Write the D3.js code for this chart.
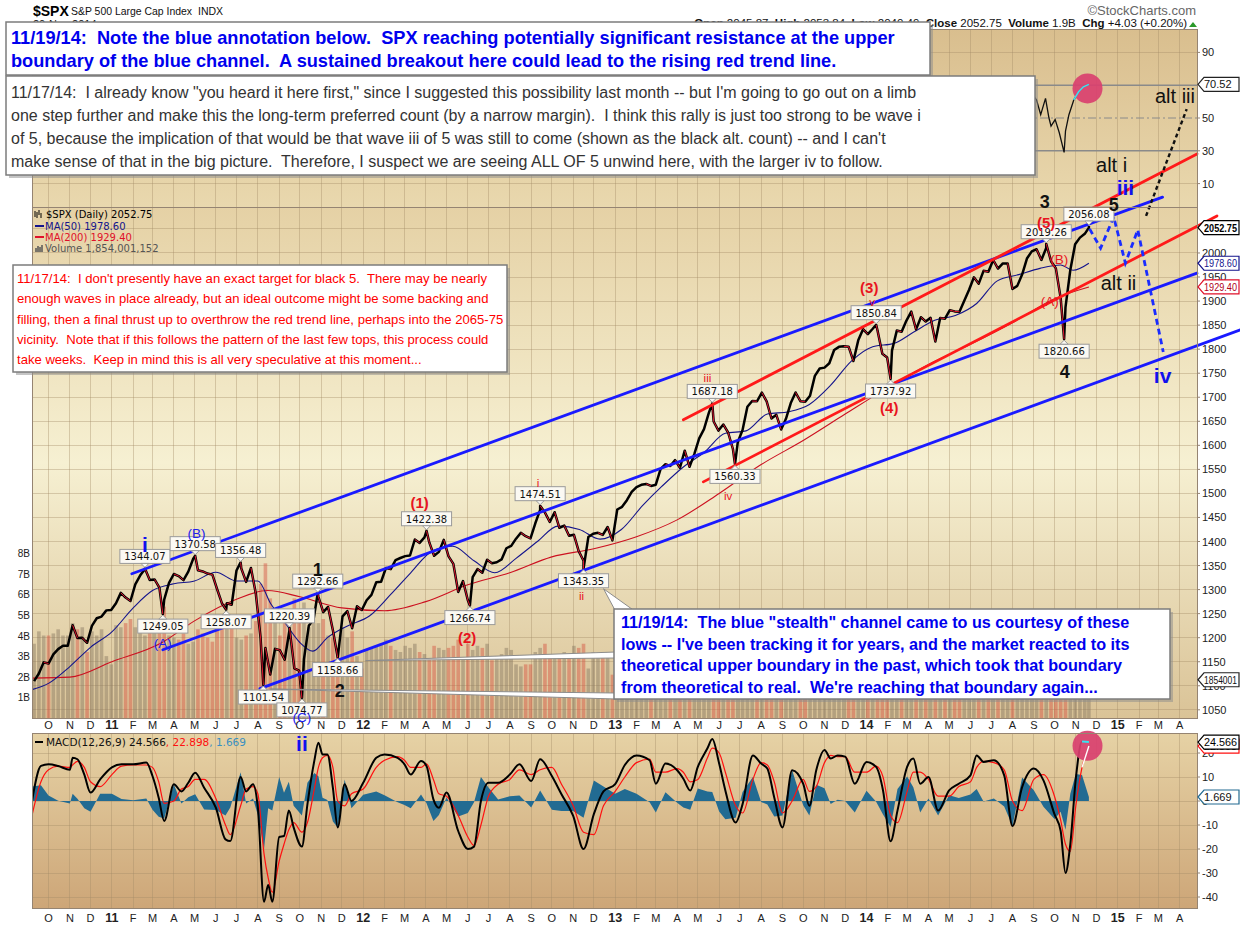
<!DOCTYPE html>
<html>
<head>
<meta charset="utf-8">
<title>$SPX S&amp;P 500 Large Cap Index</title>
<script src="https://cdn.jsdelivr.net/npm/d3@7"></script>
<style>
    body { margin: 0; background: #fff; }
    svg { display: block; }
</style>
</head>
<body>
<svg id="chart" width="1240" height="928"></svg>
<script>
//Weekly closes, one per Friday starting FIRST_WEEK (last one is the 11/20 close)
const FIRST_WEEK = "2010-09-10";
const LAST_DAY = "2014-11-20";
const CLOSES = [
    //2010
    1109.6, 1125.6, 1148.7, 1146.2, 1165.2, 1176.2, 1183.1, 1183.3, 1225.9, 1199.2, 1199.7, 1189.4,
    1224.7, 1240.4, 1243.9, 1256.8, 1257.6,
    //2011
    1271.5, 1293.2, 1283.4, 1276.3, 1310.9, 1329.2, 1343.0, 1320.0, 1321.2, 1304.3, 1279.2, 1313.8,
    1332.4, 1328.2, 1319.7, 1337.4, 1363.6, 1340.2, 1337.8, 1333.3, 1331.1, 1300.2, 1271.0, 1271.5, 1268.5,
    1339.7, 1343.8, 1316.1, 1345.0, 1292.3, 1199.4, 1178.8, 1123.5, 1176.8, 1174.0, 1154.2, 1216.0, 1136.4, 1131.4,
    1155.5, 1224.6, 1238.3, 1285.1, 1253.2, 1263.9, 1215.7, 1158.7, 1244.3, 1255.2, 1219.7, 1265.3, 1257.6,
    //2012
    1277.8, 1289.1, 1315.4, 1316.3, 1344.9, 1342.6, 1361.2, 1365.7, 1369.6, 1370.9, 1404.2, 1397.1, 1408.5,
    1398.1, 1370.3, 1378.5, 1403.4, 1369.1, 1353.4, 1295.2, 1317.8, 1278.0, 1325.7, 1342.8, 1335.0, 1362.2,
    1354.7, 1356.8, 1362.7, 1386.0, 1391.0, 1405.9, 1418.2, 1411.1, 1406.6, 1437.9, 1465.8, 1460.2, 1440.7,
    1460.9, 1428.6, 1433.2, 1411.9, 1414.2, 1379.9, 1359.9, 1409.2, 1416.2, 1418.1, 1413.6, 1430.2, 1402.4,
    //2013
    1466.5, 1472.1, 1486.0, 1503.0, 1513.2, 1517.9, 1519.8, 1515.6, 1518.2, 1551.2, 1560.7, 1556.9, 1569.2,
    1553.3, 1588.9, 1555.3, 1582.2, 1614.4, 1633.7, 1667.5, 1649.6, 1630.7, 1643.4, 1626.7, 1592.4, 1606.3,
    1631.9, 1680.2, 1692.1, 1691.7, 1709.7, 1691.4, 1655.8, 1663.5, 1633.0, 1655.2, 1688.0, 1709.9, 1691.8,
    1690.5, 1703.2, 1744.5, 1759.8, 1761.6, 1770.6, 1798.2, 1804.8, 1805.8, 1805.1, 1775.3, 1818.3, 1841.4,
    //2014
    1831.4, 1842.4, 1838.7, 1790.3, 1782.6, 1797.0, 1838.6, 1836.2, 1859.5, 1878.0, 1841.1, 1866.5, 1857.6,
    1865.1, 1815.7, 1864.9, 1863.4, 1881.1, 1878.5, 1877.9, 1900.5, 1923.6, 1949.4, 1936.2, 1962.9, 1961.0,
    1985.4, 1967.6, 1978.2, 1978.3, 1925.2, 1931.6, 1955.1, 1988.4, 2003.4, 2007.7, 1985.5, 2010.4, 1982.9,
    1967.9, 1906.1, 1886.8, 1964.6, 2018.1, 2031.9, 2039.8, 2052.75
];

//Volume per week, billions of shares
const VOLUMES = [
    3.6, 4.2, 4.0, 4.0, 4.1, 4.3, 4.0, 4.0, 4.6, 4.3, 4.4, 3.2, 4.2, 4.0, 4.3, 3.0, 2.6,
    4.5, 4.4, 4.6, 4.8, 4.4, 4.2, 4.0, 4.6, 4.4, 4.8, 5.4, 4.0, 3.9, 3.8, 4.1, 3.6, 3.7, 4.3, 4.1, 3.9, 3.7,
    4.3, 4.5, 4.6, 4.8, 3.9, 3.8, 4.0, 4.1, 4.7, 6.5, 7.5, 5.8, 4.9, 4.0, 4.6, 4.7, 5.8, 4.9, 5.6, 4.4, 4.6, 4.6,
    4.8, 4.0, 3.9, 3.3, 4.4, 3.9, 4.2, 3.0, 2.4,
    3.3, 3.4, 3.5, 3.6, 3.8, 3.5, 3.3, 3.2, 3.5, 3.4, 3.6, 3.2, 3.1, 2.9, 3.5, 3.4, 3.3, 3.4, 3.5, 3.8, 2.9,
    3.6, 3.3, 3.5, 3.4, 3.6, 2.8, 3.0, 3.1, 3.4, 3.3, 2.6, 2.5, 2.6, 2.6, 3.2, 3.4, 3.6, 2.9, 2.9, 3.0, 3.2, 3.1,
    3.5, 3.4, 3.6, 2.4, 3.2, 3.1, 3.0, 3.2, 2.1,
    3.6, 3.5, 3.4, 3.5, 3.6, 3.3, 3.2, 3.5, 3.3, 3.2, 3.4, 3.2, 3.0, 3.3, 3.2, 3.8, 3.2, 3.4, 3.3, 3.3, 3.6, 3.5,
    3.6, 3.3, 4.2, 3.9, 2.7, 3.2, 3.1, 3.0, 3.2, 2.8, 2.9, 2.6, 2.7, 2.9, 2.9, 3.4, 3.1, 3.2, 3.4, 3.3, 3.2,
    3.4, 3.3, 3.1, 3.2, 2.3, 3.2, 3.3, 3.9, 2.3,
    2.8, 3.2, 3.3, 3.6, 3.8, 3.9, 3.2, 3.0, 3.2, 3.2, 3.3, 3.5, 3.4, 3.4, 3.6, 3.2, 3.0, 3.2, 3.0, 3.1, 2.8, 2.7,
    2.8, 2.9, 3.2, 2.9, 2.4, 2.9, 3.0, 2.9, 3.6, 3.3, 2.9, 2.5, 2.3, 2.7, 2.9, 3.5, 3.2, 3.6, 4.1, 4.9, 3.2, 3.4,
    3.0, 2.8, 2.6
];
const LAST_VOLUME = 1.854001152;

//Labelled highs and lows
const PIVOT_DATES = ["2011-02-18", "2011-03-16", "2011-05-02", "2011-06-16", "2011-07-07", "2011-08-09",
    "2011-09-16", "2011-10-04", "2011-10-27", "2011-11-25", "2012-04-02", "2012-06-04", "2012-09-14",
    "2012-11-16", "2013-05-22", "2013-06-24", "2014-01-15", "2014-02-05", "2014-09-19", "2014-10-15", "2014-11-20"];
const PIVOT_PRICES = [1344.07, 1249.05, 1370.58, 1258.07, 1356.48, 1101.54, 1220.39, 1074.77, 1292.66, 1158.66,
    1422.38, 1266.74, 1474.51, 1343.35, 1687.18, 1560.33, 1850.84, 1737.92, 2019.26, 1820.66, 2056.08];
const PIVOT_SIDES = ["H", "L", "H", "L", "H", "L", "H", "L", "H", "L", "H", "L", "H", "L", "H", "L", "H", "L", "H", "L", "H"];

//Moving averages
const MA50_DATES = ["2010-09-07", "2010-10-01", "2010-11-01", "2010-12-01", "2011-01-01", "2011-02-01", "2011-03-01",
    "2011-04-01", "2011-05-01", "2011-06-01", "2011-07-01", "2011-08-01", "2011-08-20", "2011-09-10", "2011-10-01",
    "2011-10-20", "2011-11-10", "2011-12-10", "2012-01-10", "2012-02-10", "2012-03-10", "2012-04-10", "2012-05-10",
    "2012-06-10", "2012-07-10", "2012-08-10", "2012-09-10", "2012-10-10", "2012-11-10", "2012-12-10", "2013-01-10",
    "2013-02-10", "2013-03-10", "2013-04-10", "2013-05-10", "2013-06-10", "2013-07-10", "2013-08-10", "2013-09-10",
    "2013-10-10", "2013-11-10", "2013-12-10", "2014-01-10", "2014-02-10", "2014-03-10", "2014-04-10", "2014-05-10",
    "2014-06-10", "2014-07-10", "2014-08-10", "2014-09-10", "2014-10-10", "2014-10-28", "2014-11-20"];
const MA50_VALUES = [1092, 1105, 1140, 1180, 1212, 1262, 1298, 1312, 1318, 1336, 1318, 1318, 1270, 1230, 1190,
    1172, 1200, 1225, 1245, 1290, 1335, 1380, 1390, 1360, 1335, 1365, 1400, 1432, 1425, 1405, 1425, 1475, 1515,
    1555, 1585, 1625, 1630, 1665, 1670, 1685, 1725, 1775, 1805, 1812, 1835, 1860, 1870, 1895, 1942, 1955, 1968,
    1975, 1964, 1978.6];
const MA200_DATES = ["2010-09-07", "2010-11-01", "2011-01-01", "2011-03-15", "2011-05-01", "2011-07-01", "2011-08-15",
    "2011-10-01", "2011-12-01", "2012-02-01", "2012-04-01", "2012-06-01", "2012-08-01", "2012-10-01", "2012-12-01",
    "2013-02-01", "2013-04-01", "2013-06-01", "2013-08-01", "2013-10-01", "2013-12-01", "2014-02-01", "2014-04-01",
    "2014-06-01", "2014-08-01", "2014-10-01", "2014-11-20"];
const MA200_VALUES = [1116, 1118, 1150, 1190, 1235, 1280, 1298, 1285, 1262, 1256, 1275, 1310, 1335, 1368, 1385,
    1410, 1445, 1500, 1560, 1610, 1665, 1720, 1768, 1810, 1855, 1905, 1929.4];

//RSI(14), only the stretch not hidden by the notes
const RSI_DATES = ["2014-08-29", "2014-09-05", "2014-09-11", "2014-09-18", "2014-09-23", "2014-09-26", "2014-10-02",
    "2014-10-08", "2014-10-15", "2014-10-17", "2014-10-22", "2014-10-29", "2014-11-05", "2014-11-12", "2014-11-20"];
const RSI_VALUES = [65, 61, 52, 62, 50, 45, 49, 41, 29, 42, 52, 61, 66, 69, 70.52];

//MACD(12,26,9) and its signal line
const MACD_DATES = ["2010-09-07", "2010-09-20", "2010-10-01", "2010-10-15", "2010-11-01", "2010-11-05", "2010-11-12",
    "2010-11-22", "2010-12-01", "2010-12-15", "2011-01-01", "2011-01-15", "2011-02-01", "2011-02-20", "2011-03-01",
    "2011-03-10", "2011-03-18", "2011-04-01", "2011-04-12", "2011-04-22", "2011-05-02", "2011-05-15", "2011-06-01",
    "2011-06-15", "2011-06-22", "2011-07-07", "2011-07-15", "2011-07-25", "2011-08-01", "2011-08-10", "2011-08-16",
    "2011-08-22", "2011-09-01", "2011-09-08", "2011-09-15", "2011-09-22", "2011-10-04", "2011-10-12", "2011-10-22",
    "2011-10-28", "2011-11-03", "2011-11-10", "2011-11-18", "2011-11-25", "2011-12-05", "2011-12-15", "2012-01-01",
    "2012-01-20", "2012-02-01", "2012-02-20", "2012-03-01", "2012-03-10", "2012-03-25", "2012-04-02", "2012-04-12",
    "2012-04-20", "2012-05-01", "2012-05-18", "2012-06-01", "2012-06-10", "2012-06-20", "2012-07-01", "2012-07-15",
    "2012-08-01", "2012-08-15", "2012-09-01", "2012-09-14", "2012-10-01", "2012-10-15", "2012-11-01", "2012-11-16",
    "2012-12-01", "2012-12-15", "2013-01-01", "2013-01-15", "2013-02-01", "2013-02-20", "2013-03-01", "2013-03-15",
    "2013-04-01", "2013-04-10", "2013-04-20", "2013-05-01", "2013-05-15", "2013-05-22", "2013-06-01", "2013-06-10",
    "2013-06-25", "2013-07-05", "2013-07-20", "2013-08-01", "2013-08-10", "2013-08-20", "2013-09-01", "2013-09-15",
    "2013-10-01", "2013-10-10", "2013-10-20", "2013-11-01", "2013-11-10", "2013-11-20", "2013-12-01", "2013-12-15",
    "2014-01-01", "2014-01-15", "2014-01-25", "2014-02-05", "2014-02-15", "2014-03-01", "2014-03-10", "2014-03-20",
    "2014-04-01", "2014-04-15", "2014-05-01", "2014-05-15", "2014-06-01", "2014-06-10", "2014-06-20", "2014-07-05",
    "2014-07-20", "2014-08-01", "2014-08-15", "2014-09-01", "2014-09-15", "2014-10-01", "2014-10-10", "2014-10-17",
    "2014-10-24", "2014-11-01", "2014-11-10", "2014-11-20"];
const MACD_VALUES = [0, 14.6, 15.3, 14.6, 13, 18, 17.4, 11, 3.5, 9, 14, 15.3, 15.3, 16, 10.4, 1.4, -8.3, 7, 4, 7.6,
    11.8, 5.5, -2.8, -16, -16.7, 10, 4, 7, -2.8, -42, -35, -42, -15, -14.6, -4, -11, -19, -1.4, 16.7, 24.3, 19.4,
    19.4, 5.5, -11, 7, 0, 7.6, 18, 19.4, 18, 15.3, 11, 16.7, 14.6, 0.7, -2.8, 3.5, -12.5, -20, -19, 0, 7.6, 7.6,
    11, 15.3, 8.3, 17.4, 10.4, 2.8, -6.2, -20, -5.5, 4, 7, 15, 19, 17, 7.2, 15.6, 12.8, 9.3, 4.4, 14.2, 22, 25.8,
    15.6, 4.4, -9, -1.3, 19, 15.6, 13.5, 1.5, -11, 12.8, 7.2, -2, 12.8, 21.3, 17.7, 19, 18.5, 7.2, 16.3, 14.2, 4.4,
    -16.8, -4, 14.2, 17.7, 7.2, 10, -4, 4.4, 7.2, 10.7, 19, 16.3, 17, 10.7, -10.4, 5.8, 13.5, 8.6, -5.5, -12.5,
    -30, -18, 9.3, 24.8, 24.5664];
const SIGNAL_VALUES = [-6, 8, 13, 14.5, 14, 15, 16.5, 14, 8, 6, 11, 14.5, 15, 15, 14, 8, -1, 0, 5, 6, 9, 9, 1,
    -10, -14, -2, 5, 6, 3, -22, -32, -38, -25, -18, -12, -9, -13, -9, 5, 14, 18, 19, 14, 0, -2, 3, 5, 14, 17,
    18.5, 17, 14, 14, 15.5, 9, 3, 2, -6, -15, -18.5, -10, 2, 7, 9, 13, 11, 13, 14, 7, -2, -13, -14, -2, 4, 10,
    16, 17.5, 12, 12, 13.5, 12, 8, 9, 18, 22, 20, 12, -2, -5, 9, 16, 15, 8, -5, 0, 9, 4, 6, 16, 19, 18.5, 18.5,
    12, 12, 14.5, 10, -6, -9, 4, 12, 12, 9, 2, 2, 6, 8, 14, 16.5, 16, 13, 0, -4, 9, 11, 2, -8, -18, -21, -2, 14,
    22.8976];

//Channels drawn on the chart, [start date, price, end date, price]
const BLUE_CHANNEL = [
    ["2011-01-30", 1333, "2015-03-07", 2116],
    ["2011-03-16", 1175, "2015-04-26", 1958],
    ["2011-08-04", 1094, "2015-06-28", 1840]
];
const RED_CHANNEL = [
    ["2013-04-10", 1653, "2015-04-26", 2206],
    ["2013-05-09", 1524, "2015-05-25", 2077]
];
//Projected paths
const BLUE_PATH = [["2014-11-21", 2050], ["2014-12-07", 2010], ["2014-12-26", 2075], ["2015-01-12", 1979],
    ["2015-01-30", 2048], ["2015-03-08", 1794]];
const ALT_PATH = [["2015-02-11", 2077], ["2015-04-11", 2299]];

//Wave labels [text, date, price]
const BLUE_WAVES = [["i", "2011-02-18", 1393], ["ii", "2011-10-04", 981], ["iii", "2015-01-12", 2137], ["iv", "2015-03-07", 1746]];
const BLUE_LETTERS = [["(A)", "2011-03-16", 1189], ["(B)", "2011-05-04", 1418], ["(C)", "2011-10-04", 1035]];
const BLACK_WAVES = [["1", "2011-10-27", 1341], ["2", "2011-11-28", 1091], ["3", "2014-09-17", 2106],
    ["4", "2014-10-16", 1753], ["5", "2014-12-26", 2100]];
const ALT_WAVES = [["alt i", "2014-12-23", 2183], ["alt ii", "2015-01-02", 1938], ["alt iii", "2015-03-25", 2326]];
const RED_WAVES = [["(1)", "2012-03-23", 1480], ["(2)", "2012-05-31", 1200], ["(3)", "2014-01-05", 1927],
    ["(4)", "2014-02-03", 1678], ["(5)", "2014-09-19", 2064]];
const RED_MINOR = [["i", "2012-09-11", 1522], ["ii", "2012-11-13", 1287], ["iii", "2013-05-15", 1740],
    ["iv", "2013-06-14", 1495], ["v", "2014-01-09", 1898]];
const RED_LETTERS = [["(A)", "2014-09-24", 1900], ["(B)", "2014-10-08", 1987]];

//Axis labels
const MONTH_LETTERS = ["J", "F", "M", "A", "M", "J", "J", "A", "S", "O", "N", "D"];
const PRICE_TICKS = [1050, 1100, 1150, 1200, 1250, 1300, 1350, 1400, 1450, 1500, 1550, 1600, 1650, 1700, 1750,
    1800, 1850, 1900, 1950, 2000, 2050];
const RSI_TICKS = [10, 30, 50, 90];
const MACD_TICKS = [-40, -30, -20, -10, 0, 10, 20];
const VOLUME_TICKS = [1, 2, 3, 4, 5, 6, 7, 8];

//Notes
const NOTE_TOP = [
    "11/19/14:  Note the blue annotation below.  SPX reaching potentially significant resistance at the upper",
    "boundary of the blue channel.  A sustained breakout here could lead to the rising red trend line."
];
const NOTE_COUNT = [
    "11/17/14:  I already know \"you heard it here first,\" since I suggested this possibility last month -- but I'm going to go out on a limb",
    "one step further and make this the long-term preferred count (by a narrow margin).  I think this rally is just too strong to be wave i",
    "of 5, because the implication of that would be that wave iii of 5 was still to come (shown as the black alt. count) -- and I can't",
    "make sense of that in the big picture.  Therefore, I suspect we are seeing ALL OF 5 unwind here, with the larger iv to follow."
];
const NOTE_TARGET = [
    "11/17/14:  I don't presently have an exact target for black 5.  There may be nearly",
    "enough waves in place already, but an ideal outcome might be some backing and",
    "filling, then a final thrust up to overthrow the red trend line, perhaps into the 2065-75",
    "vicinity.  Note that if this follows the pattern of the last few tops, this process could",
    "take weeks.  Keep in mind this is all very speculative at this moment..."
];
const NOTE_CHANNEL = [
    "11/19/14:  The blue \"stealth\" channel came to us courtesy of these",
    "lows -- I've been tracking it for years, and the market reacted to its",
    "theoretical upper boundary in the past, which took that boundary",
    "from theoretical to real.  We're reaching that boundary again..."
];

const parse = d3.timeParse("%Y-%m-%d");
const FONT = "'Liberation Sans', Arial, sans-serif";
const SMALL = "'DejaVu Sans', Verdana, sans-serif";

const L = 32, R = 1197;
const RSI_TOP = 29, PRICE_TOP = 207, PRICE_BOT = 718, MACD_TOP = 733, MACD_BOT = 908;

let svg = d3.select("#chart");
let defs = svg.append("defs");

function gradient(id, stops) {
    let g = defs.append("linearGradient").attr("id", id)
        .attr("x1", 0).attr("y1", 0).attr("x2", 0).attr("y2", 1);
    stops.forEach(s => g.append("stop").attr("offset", s[0]).attr("stop-color", s[1]));
}
gradient("gRsi", [[0, "#d9be8e"], [1, "#e9d8ae"]]);
gradient("gPrice", [[0, "#e5d1a5"], [0.5, "#f6f0d2"], [1, "#dac397"]]);
gradient("gMacd", [[0, "#e6d2a5"], [1, "#cda678"]]);

function clip(id, top, bottom) {
    defs.append("clipPath").attr("id", id).append("rect")
        .attr("x", L).attr("y", top).attr("width", R - L).attr("height", bottom - top);
}
clip("cRsi", RSI_TOP, PRICE_TOP);
clip("cPrice", PRICE_TOP, PRICE_BOT);
clip("cMacd", MACD_TOP, MACD_BOT);

//Scales
let x = d3.scaleTime().domain([parse("2010-09-07"), parse("2015-04-26")]).range([L, R]);
let yRsi = d3.scaleLinear().domain([0, 100]).range([200, 36]);
let yPrice = d3.scaleLinear().domain([1033, 2095.6]).range([PRICE_BOT, PRICE_TOP]);
let yVol = d3.scaleLinear().domain([0, 8]).range([PRICE_BOT, 553]);
let yMacd = d3.scaleLinear().domain([0, 20]).range([801, 753]);

let weeks = d3.timeFriday.range(parse(FIRST_WEEK), parse("2014-11-22")).slice(0, CLOSES.length);
weeks[weeks.length - 1] = parse(LAST_DAY);

//Panel backgrounds
const PANELS = [[RSI_TOP, PRICE_TOP, "gRsi"], [PRICE_TOP, PRICE_BOT, "gPrice"], [MACD_TOP, MACD_BOT, "gMacd"]];
PANELS.forEach(p => {
    svg.append("rect").attr("x", L).attr("y", p[0]).attr("width", R - L).attr("height", p[1] - p[0])
        .attr("fill", `url(#${p[2]})`);
});

//Grid
let months = d3.timeMonth.range(x.domain()[0], x.domain()[1]);
let grid = svg.append("g").attr("stroke", "#a48c66").attr("stroke-opacity", 0.38)
    .attr("shape-rendering", "crispEdges");
PANELS.forEach(p => {
    grid.append("g").selectAll("line").data(months).join("line")
        .attr("x1", d => x(d)).attr("x2", d => x(d))
        .attr("y1", p[0]).attr("y2", p[1]);
});
grid.append("g").selectAll("line").data(PRICE_TICKS).join("line")
    .attr("x1", L).attr("x2", R).attr("y1", d => yPrice(d)).attr("y2", d => yPrice(d));
grid.append("g").selectAll("line").data([10, 90]).join("line")
    .attr("x1", L).attr("x2", R).attr("y1", d => yRsi(d)).attr("y2", d => yRsi(d));
grid.append("g").selectAll("line").data(MACD_TICKS).join("line")
    .attr("x1", L).attr("x2", R).attr("y1", d => yMacd(d)).attr("y2", d => yMacd(d));

//RSI reference lines
let rsiG = svg.append("g").attr("clip-path", "url(#cRsi)");
rsiG.selectAll("line.ref").data([30, 50, 70]).join("line")
    .attr("x1", L).attr("x2", R).attr("y1", d => yRsi(d)).attr("y2", d => yRsi(d))
    .attr("stroke", "#8a8a8a").attr("stroke-width", d => d === 50 ? 1 : 1.4)
    .attr("stroke-dasharray", d => d === 50 ? "8,3,2,3" : null);

//Volume
let volG = svg.append("g").attr("clip-path", "url(#cPrice)");
volG.selectAll("rect").data(weeks).join("rect")
    .attr("x", d => x(d) - 1.8).attr("width", 3.6)
    .attr("y", (d, i) => yVol(VOLUMES[i])).attr("height", (d, i) => PRICE_BOT - yVol(VOLUMES[i]))
    .attr("fill", (d, i) => i > 0 && CLOSES[i] < CLOSES[i - 1] ? "#d4503e" : "#857560")
    .attr("fill-opacity", 0.45);

//Moving averages
let priceG = svg.append("g").attr("clip-path", "url(#cPrice)");
function maLine(dates, values, color) {
    priceG.append("path")
        .datum(dates.map((d, i) => [parse(d), values[i]]))
        .attr("d", d3.line().x(d => x(d[0])).y(d => yPrice(d[1])).curve(d3.curveMonotoneX))
        .attr("fill", "none").attr("stroke", color).attr("stroke-width", 1.1);
}
maLine(MA200_DATES, MA200_VALUES, "#cc1020");
maLine(MA50_DATES, MA50_VALUES, "#14148c");

//Price: weekly closes with the labelled extremes
let pricePts = weeks.map((d, i) => ({ date: d, value: CLOSES[i] }))
    .concat(PIVOT_DATES.map((d, i) => ({ date: parse(d), value: PIVOT_PRICES[i] })))
    .sort((a, b) => a.date - b.date);
priceG.append("path").datum(pricePts)
    .attr("d", d3.line().x(d => x(d.date)).y(d => yPrice(d.value)))
    .attr("fill", "none").attr("stroke", "#000").attr("stroke-width", 2.5).attr("stroke-linejoin", "round");
priceG.selectAll("line.down").data(d3.pairs(pricePts).filter(p => p[1].value < p[0].value)).join("line")
    .attr("x1", d => x(d[0].date)).attr("y1", d => yPrice(d[0].value))
    .attr("x2", d => x(d[1].date)).attr("y2", d => yPrice(d[1].value))
    .attr("stroke", "#e0142e").attr("stroke-width", 1);

//Channels and projections
let drawG = svg.append("g").attr("fill", "none").attr("stroke-linecap", "round");
function channel(list, color) {
    drawG.append("g").selectAll("line").data(list).join("line")
        .attr("x1", d => x(parse(d[0]))).attr("y1", d => yPrice(d[1]))
        .attr("x2", d => x(parse(d[2]))).attr("y2", d => yPrice(d[3]))
        .attr("stroke", color).attr("stroke-width", 2.8);
}
channel(BLUE_CHANNEL, "#1a1aff");
channel(RED_CHANNEL, "#ff1a1a");

let projLine = d3.line().x(d => x(parse(d[0]))).y(d => yPrice(d[1]));
drawG.append("path").attr("d", projLine(BLUE_PATH))
    .attr("stroke", "#1a2cff").attr("stroke-width", 2.8).attr("stroke-dasharray", "6,4")
    .attr("stroke-linecap", "butt");
drawG.append("path").attr("d", projLine(ALT_PATH))
    .attr("stroke", "#111").attr("stroke-width", 2.4).attr("stroke-dasharray", "4,3")
    .attr("stroke-linecap", "butt");

//Price callouts on the highs and lows
let tagG = svg.append("g");
PIVOT_DATES.forEach((d, i) => {
    let px = x(parse(d)), py = yPrice(PIVOT_PRICES[i]);
    let txt = PIVOT_PRICES[i].toFixed(2);
    let w = txt.length * 6.3 + 6, h = 14;
    let high = PIVOT_SIDES[i] === "H";
    let top = high ? py - 5 - h : py + 5;
    let tip = high ? `M${px - 4},${top + h} L${px},${py - 1} L${px + 4},${top + h} Z`
                   : `M${px - 4},${top} L${px},${py + 1} L${px + 4},${top} Z`;
    tagG.append("rect").attr("x", px - w / 2).attr("y", top).attr("width", w).attr("height", h)
        .attr("fill", "#fbf9f3").attr("stroke", "#9a9a9a");
    tagG.append("path").attr("d", tip).attr("fill", "#fbf9f3").attr("stroke", "#9a9a9a");
    tagG.append("text").attr("x", px).attr("y", top + 11).attr("text-anchor", "middle")
        .attr("font-family", SMALL).attr("font-size", 10).attr("fill", "#111").text(txt);
});

//Wave labels
function waves(list, size, weight, color) {
    svg.append("g").selectAll("text").data(list).join("text")
        .attr("x", d => x(parse(d[1]))).attr("y", d => yPrice(d[2]))
        .attr("dy", "0.36em").attr("text-anchor", "middle")
        .attr("font-family", FONT).attr("font-size", size).attr("font-weight", weight)
        .attr("fill", color).text(d => d[0]);
}

//MACD panel
let macdG = svg.append("g").attr("clip-path", "url(#cMacd)");
let macdPts = MACD_DATES.map((d, i) => ({ date: parse(d), m: MACD_VALUES[i], s: SIGNAL_VALUES[i] }));
macdG.append("path").datum(macdPts)
    .attr("d", d3.area().x(d => x(d.date)).y0(yMacd(0)).y1(d => yMacd(d.m - d.s)))
    .attr("fill", "#226b92");
let mLine = d3.line().x(d => x(d.date)).y(d => yMacd(d.m)).curve(d3.curveMonotoneX);
let sLine = d3.line().x(d => x(d.date)).y(d => yMacd(d.s)).curve(d3.curveMonotoneX);
macdG.append("path").datum(macdPts).attr("d", sLine)
    .attr("fill", "none").attr("stroke", "#ff1010").attr("stroke-width", 1.2);
macdG.append("path").datum(macdPts).attr("d", mLine)
    .attr("fill", "none").attr("stroke", "#000").attr("stroke-width", 2);

//Highlights drawn over the last readings
const HILITE_FROM = parse("2014-11-03");
let lastMacd = macdPts[macdPts.length - 1];
svg.append("circle").attr("cx", x(parse("2014-11-18"))).attr("cy", yMacd(23)).attr("r", 15)
    .attr("fill", "#d9406f").attr("fill-opacity", 0.92);
svg.append("path").datum(macdPts.filter(d => d.date >= HILITE_FROM)).attr("d", mLine)
    .attr("fill", "none").attr("stroke", "#38e4f2").attr("stroke-width", 2);
svg.append("path").datum(macdPts.filter(d => d.date >= parse("2014-11-10"))).attr("d", sLine)
    .attr("fill", "none").attr("stroke", "#fff").attr("stroke-width", 1.4);

//RSI line
let rsiPts = RSI_DATES.map((d, i) => [parse(d), RSI_VALUES[i]]);
let rLine = d3.line().x(d => x(d[0])).y(d => yRsi(d[1]));
svg.append("circle").attr("cx", x(parse("2014-11-18"))).attr("cy", yRsi(68)).attr("r", 15)
    .attr("fill", "#d9406f").attr("fill-opacity", 0.92);
rsiG.append("path").datum(rsiPts).attr("d", rLine)
    .attr("fill", "none").attr("stroke", "#111").attr("stroke-width", 1.3);
svg.append("path").datum(rsiPts.filter(d => d[0] >= parse("2014-10-29"))).attr("d", rLine)
    .attr("fill", "none").attr("stroke", "#38e4f2").attr("stroke-width", 1.5);

//Panel borders
PANELS.forEach(p => {
    svg.append("rect").attr("x", L + 0.5).attr("y", p[0] + 0.5).attr("width", R - L).attr("height", p[1] - p[0])
        .attr("fill", "none").attr("stroke", "#958472");
});

//X axis rows
[729, 922].forEach(yy => {
    svg.append("g").selectAll("text").data(months).join("text")
        .attr("x", d => x(d)).attr("y", yy).attr("text-anchor", "middle")
        .attr("font-family", FONT)
        .attr("font-size", d => d.getMonth() === 0 ? 12.5 : 11)
        .attr("font-weight", d => d.getMonth() === 0 ? "bold" : "normal")
        .attr("fill", "#222")
        .text(d => d.getMonth() === 0 ? d3.timeFormat("%y")(d) : MONTH_LETTERS[d.getMonth()]);
});

//Right axis
let axisR = svg.append("g").attr("font-family", FONT).attr("font-size", 11).attr("fill", "#222");
axisR.selectAll("text.p").data(PRICE_TICKS).join("text")
    .attr("x", 1202).attr("y", d => yPrice(d) + 4).text(d => d);
axisR.selectAll("text.r").data(RSI_TICKS).join("text")
    .attr("x", 1202).attr("y", d => yRsi(d) + 4).text(d => d);
axisR.selectAll("text.m").data(MACD_TICKS).join("text")
    .attr("x", 1202).attr("y", d => yMacd(d) + 4).text(d => d);
svg.append("g").attr("stroke", "#958472").selectAll("line")
    .data(PRICE_TICKS.map(yPrice).concat(RSI_TICKS.map(yRsi), MACD_TICKS.map(yMacd))).join("line")
    .attr("x1", R).attr("x2", R + 3).attr("y1", d => d).attr("y2", d => d);

//Left volume axis
svg.append("g").selectAll("text").data(VOLUME_TICKS).join("text")
    .attr("x", 30).attr("y", d => yVol(d) + 4).attr("text-anchor", "end")
    .attr("font-family", FONT).attr("font-size", 10).attr("fill", "#222").text(d => d + "B");

//Value tags on the right edge
function valueTag(yy, txt, stroke, color, bold) {
    svg.append("path")
        .attr("d", `M1198,${yy} L1204,${yy - 7} L1239,${yy - 7} L1239,${yy + 7} L1204,${yy + 7} Z`)
        .attr("fill", "#fff").attr("stroke", stroke).attr("stroke-width", 1.2);
    let t = svg.append("text").attr("x", 1204).attr("y", yy + 4)
        .attr("font-family", FONT).attr("font-size", 11).attr("font-weight", bold ? "bold" : "normal")
        .attr("fill", color).text(txt);
    if (txt.length > 5) t.attr("textLength", 33).attr("lengthAdjust", "spacingAndGlyphs");
}
valueTag(yRsi(RSI_VALUES[RSI_VALUES.length - 1]), RSI_VALUES[RSI_VALUES.length - 1].toFixed(2), "#222", "#111");
valueTag(yVol(LAST_VOLUME), "1854001", "#222", "#111");
valueTag(yPrice(MA200_VALUES[MA200_VALUES.length - 1]), MA200_VALUES[MA200_VALUES.length - 1].toFixed(2), "#e0102a", "#b00018");
valueTag(yPrice(MA50_VALUES[MA50_VALUES.length - 1]), MA50_VALUES[MA50_VALUES.length - 1].toFixed(2), "#14148c", "#14148c");
valueTag(yPrice(CLOSES[CLOSES.length - 1]), CLOSES[CLOSES.length - 1].toFixed(2), "#000", "#000", true);
valueTag(yMacd(lastMacd.m - lastMacd.s), (lastMacd.m - lastMacd.s).toFixed(3), "#226b92", "#111");
valueTag(yMacd(lastMacd.s), lastMacd.s.toFixed(3), "#ff1010", "#111");
valueTag(yMacd(lastMacd.m), lastMacd.m.toFixed(3), "#000", "#000");

//Legends
let lg = svg.append("g").attr("font-family", SMALL).attr("font-size", 10);
lg.append("path").attr("d", "M35,211v6M37,212v6M39,210v5M41,213v5").attr("stroke", "#000");
lg.append("text").attr("x", 46).attr("y", 218).attr("fill", "#000")
    .text("$SPX (Daily) " + CLOSES[CLOSES.length - 1].toFixed(2));
lg.append("line").attr("x1", 35).attr("x2", 44).attr("y1", 226).attr("y2", 226).attr("stroke", "#14148c").attr("stroke-width", 2);
lg.append("text").attr("x", 45).attr("y", 230).attr("fill", "#14148c")
    .text("MA(50) " + MA50_VALUES[MA50_VALUES.length - 1].toFixed(2));
lg.append("line").attr("x1", 35).attr("x2", 44).attr("y1", 237).attr("y2", 237).attr("stroke", "#e0102a").attr("stroke-width", 2);
lg.append("text").attr("x", 45).attr("y", 241).attr("fill", "#e0102a")
    .text("MA(200) " + MA200_VALUES[MA200_VALUES.length - 1].toFixed(2));
lg.append("path").attr("d", "M36,252v-4M38,252v-6M40,252v-5M42,252v-7").attr("stroke", "#555").attr("stroke-width", 1.5);
lg.append("text").attr("x", 45).attr("y", 252).attr("fill", "#555").text("Volume 1,854,001,152");

let ml = svg.append("text").attr("x", 46).attr("y", 746).attr("font-family", SMALL).attr("font-size", 10.5);
svg.append("line").attr("x1", 35).attr("x2", 43).attr("y1", 742).attr("y2", 742).attr("stroke", "#000").attr("stroke-width", 2);
ml.append("tspan").attr("fill", "#111").text("MACD(12,26,9) " + lastMacd.m.toFixed(3));
ml.append("tspan").attr("fill", "#ff1010").text(", " + lastMacd.s.toFixed(3));
ml.append("tspan").attr("fill", "#3a8fc0").text(", " + (lastMacd.m - lastMacd.s).toFixed(3));

//Header
svg.append("text").attr("x", 33).attr("y", 16).attr("font-family", FONT).attr("font-size", 14)
    .attr("font-weight", "bold").attr("fill", "#000").text("$SPX");
svg.append("text").attr("x", 71).attr("y", 15).attr("font-family", FONT).attr("font-size", 11.5)
    .attr("textLength", 121).attr("lengthAdjust", "spacingAndGlyphs")
    .attr("fill", "#111").text("S&P 500 Large Cap Index");
svg.append("text").attr("x", 198).attr("y", 15).attr("font-family", FONT).attr("font-size", 10.5)
    .attr("fill", "#111").text("INDX");
svg.append("text").attr("x", 33).attr("y", 28).attr("font-family", FONT).attr("font-size", 11)
    .attr("fill", "#111").text("20-Nov-2014");
svg.append("text").attr("x", 1196).attr("y", 15).attr("text-anchor", "end").attr("font-family", FONT)
    .attr("font-size", 13).attr("fill", "#666").text("\u00a9StockCharts.com");
let hdr = svg.append("text").attr("x", 1187).attr("y", 27).attr("text-anchor", "end")
    .attr("font-family", FONT).attr("font-size", 11.5).attr("fill", "#111").style("white-space", "pre");
[["Open ", true], ["2045.87  ", false], ["High ", true], ["2053.84  ", false], ["Low ", true], ["2040.49  ", false],
 ["Close ", true], ["2052.75  ", false], ["Volume ", true], ["1.9B  ", false], ["Chg ", true], ["+4.03 (+0.20%)", false]]
    .forEach(t => hdr.append("tspan").attr("font-weight", t[1] ? "bold" : "normal").text(t[0]));
svg.append("path").attr("d", "M1189,27 L1193,22 L1197,27 Z").attr("fill", "#2a9a2a");

//Wave labels on top of everything drawn so far
waves(RED_MINOR, 11.5, "normal", "#e8141e");
waves(RED_LETTERS, 13.5, "normal", "#e8141e");
waves(RED_WAVES, 15, "bold", "#e8141e");
waves(BLUE_LETTERS, 13.5, "normal", "#2020ee");
waves(BLACK_WAVES, 18, "bold", "#111");
waves(ALT_WAVES, 20, "normal", "#111");
waves(BLUE_WAVES, 21, "bold", "#1010ee");

//Notes
function noteBox(x0, y0, w, h, lines, o) {
    let g = svg.append("g");
    g.append("rect").attr("x", x0 + 3).attr("y", y0 + 3).attr("width", w).attr("height", h)
        .attr("fill", "#8c8c8c").attr("fill-opacity", 0.5);
    g.append("rect").attr("x", x0).attr("y", y0).attr("width", w).attr("height", h)
        .attr("fill", "#fff").attr("stroke", "#7c7c7c").attr("stroke-width", 1.5);
    g.selectAll("text").data(lines).join("text")
        .attr("x", x0 + o.pad).attr("y", (d, i) => y0 + o.first + i * o.step)
        .attr("font-family", FONT).attr("font-size", o.size).attr("font-weight", o.weight)
        .attr("fill", o.color).style("white-space", "pre").text(d => d);
    return g;
}

//Pointers from the channel note to the lows it refers to
function pivotAt(price) {
    let i = PIVOT_PRICES.indexOf(price);
    return [x(parse(PIVOT_DATES[i])), yPrice(price)];
}
let p1 = pivotAt(1158.66), p2 = pivotAt(1101.54), p3 = pivotAt(1343.35);
let ptr = svg.append("g").attr("fill", "#fff").attr("stroke", "#8c8c8c").attr("stroke-width", 1);
ptr.append("path").attr("d", `M${p1[0] + 28},${p1[1] + 3} L616,652 L616,658 Z`);
ptr.append("path").attr("d", `M${p2[0] + 7},${p2[1] + 4} L616,693 L616,699 Z`);
ptr.append("path").attr("d", `M${p3[0] + 20},${p3[1] + 20} L616,612 L636,612 Z`);

noteBox(6, 22, 924, 53, NOTE_TOP, { pad: 5, first: 22, step: 23, size: 18.2, weight: "bold", color: "#0000ee" });
noteBox(6, 76, 1029, 99, NOTE_COUNT, { pad: 5, first: 22, step: 23, size: 16, weight: "normal", color: "#333" });
noteBox(13, 265, 494, 107, NOTE_TARGET, { pad: 4, first: 18, step: 20.3, size: 13.1, weight: "normal", color: "#ff0000" });
noteBox(614, 609, 556, 90, NOTE_CHANNEL, { pad: 7, first: 19, step: 21.6, size: 16.2, weight: "bold", color: "#0000ee" });
</script>
</body>
</html>
